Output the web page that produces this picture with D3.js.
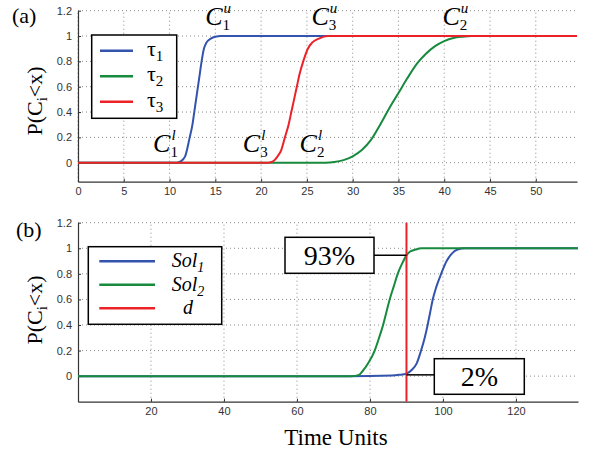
<!DOCTYPE html>
<html>
<head>
<meta charset="utf-8">
<script src="https://cdn.jsdelivr.net/npm/d3@7"></script>
<style>
body { margin: 0; background: #fff; }
</style>
</head>
<body>
<script>
// panel (a): cumulative probability of each task finishing
var tau1Time = [0, 10.8, 11.2, 11.7, 12.2, 12.5, 12.7, 12.9, 13.1, 13.3, 13.5, 13.75, 14.05, 14.5, 15, 15.6, 54.5];
var tau1Prob = [0, 0, 0.01, 0.05, 0.2, 0.3, 0.4, 0.5, 0.6, 0.7, 0.8, 0.9, 0.95, 0.98, 0.995, 1, 1];
var tau2Time = [0, 27, 28, 29, 30, 31, 32, 33, 34, 35, 36, 37, 38, 39, 40, 41, 42, 43, 54.5];
var tau2Prob = [0, 0, 0.005, 0.02, 0.05, 0.1, 0.18, 0.3, 0.43, 0.55, 0.67, 0.78, 0.86, 0.92, 0.96, 0.985, 0.995, 1, 1];
var tau3Time = [0, 20.8, 21.3, 21.8, 22.2, 22.6, 23, 23.3, 23.6, 23.9, 24.2, 24.6, 25.1, 25.6, 26.3, 27.3, 54.5];
var tau3Prob = [0, 0, 0.01, 0.05, 0.1, 0.2, 0.3, 0.4, 0.5, 0.6, 0.7, 0.8, 0.9, 0.95, 0.98, 1, 1];

// panel (b): the two solutions and the deadline
var sol1Time = [0, 74, 86, 88, 90, 91.5, 92.8, 94, 95, 95.8, 96.5, 97.2, 98.2, 99.5, 101, 102.5, 104, 106, 137];
var sol1Prob = [0, 0, 0.005, 0.01, 0.02, 0.05, 0.1, 0.2, 0.3, 0.4, 0.5, 0.6, 0.7, 0.8, 0.9, 0.96, 0.99, 1, 1];
var sol2Time = [0, 75, 77, 78, 79.5, 81.3, 82.5, 83.6, 84.5, 85.4, 86.5, 87.6, 88.8, 90, 91, 92.5, 94, 137];
var sol2Prob = [0, 0, 0.01, 0.04, 0.1, 0.2, 0.3, 0.4, 0.5, 0.6, 0.7, 0.8, 0.88, 0.945, 0.975, 0.99, 1, 1];
var deadline = 90;

// tick labels
var topTimeTicks = [0, 5, 10, 15, 20, 25, 30, 35, 40, 45, 50];
var bottomTimeTicks = [20, 40, 60, 80, 100, 120];
var probTicks = [0, 0.2, 0.4, 0.6, 0.8, 1, 1.2];

// bound labels in panel (a): [index, sup, time, prob]
var boundLabels = [
	["1", "u", 13.9, 1.087], ["3", "u", 25.5, 1.087], ["2", "u", 39.8, 1.087],
	["1", "l", 8.2, 0.084], ["3", "l", 18.0, 0.084], ["2", "l", 24.2, 0.084]];

var blue = "#3353ad", green = "#178a3e", red = "#ec2229";
var serif = "'Liberation Serif', 'Times New Roman', serif";
var sans = "'Liberation Sans', Arial, sans-serif";

var svg = d3.select("body").append("svg")
	.attr("width", 590)
	.attr("height", 455)
	.style("background", "#fff");

function zip(xs, ys) {
	return xs.map(function (x, i) { return [x, ys[i]]; });
}

function drawPanel(g, x, y, xTicks) {
	// dotted grid
	g.selectAll(".vgrid").data(xTicks).enter().append("line")
		.attr("x1", function (d) { return x(d); }).attr("x2", function (d) { return x(d); })
		.attr("y1", y.range()[0]).attr("y2", y.range()[1])
		.attr("stroke", "#8a8a8a").attr("stroke-width", 1).attr("stroke-dasharray", "1,3");
	g.selectAll(".hgrid").data(probTicks).enter().append("line")
		.attr("x1", x.range()[0]).attr("x2", x.range()[1])
		.attr("y1", function (d) { return y(d); }).attr("y2", function (d) { return y(d); })
		.attr("stroke", "#8a8a8a").attr("stroke-width", 1).attr("stroke-dasharray", "1,3");

	var xa = g.append("g").attr("transform", "translate(0," + y.range()[0] + ")")
		.call(d3.axisBottom(x).tickValues(xTicks).tickSize(-3).tickSizeOuter(0).tickPadding(6));
	var ya = g.append("g").attr("transform", "translate(" + x.range()[0] + ",0)")
		.call(d3.axisLeft(y).tickValues(probTicks).tickSize(-3).tickSizeOuter(0).tickPadding(6).tickFormat(d3.format("")));
	[xa, ya].forEach(function (a) {
		a.select(".domain").attr("stroke", "#333").attr("stroke-width", 1.2);
		a.selectAll(".tick line").attr("stroke", "#333");
		a.selectAll("text").attr("fill", "#333").style("font-family", sans).style("font-size", "11px");
	});
}

function drawCurve(g, x, y, pts, color) {
	g.append("path")
		.datum(pts)
		.attr("fill", "none")
		.attr("stroke", color)
		.attr("stroke-width", 2)
		.attr("d", d3.line().x(function (d) { return x(d[0]); }).y(function (d) { return y(d[1]); }).curve(d3.curveMonotoneX));
}

function yLabel(cx, cy) {
	var t = svg.append("text")
		.attr("transform", "translate(" + cx + "," + cy + ") rotate(-90)")
		.attr("text-anchor", "middle")
		.style("font-family", serif).style("font-size", "22px");
	t.append("tspan").text("P(C");
	t.append("tspan").attr("dy", 5).style("font-size", "15px").text("i");
	t.append("tspan").attr("dy", -5).text("<x)");
}

// ---------- panel (a) ----------
var xA = d3.scaleLinear().domain([0, 54.5]).range([78, 577]);
var yA = d3.scaleLinear().domain([-0.15, 1.2]).range([181.7, 10.7]);
var gA = svg.append("g");
drawPanel(gA, xA, yA, topTimeTicks);
drawCurve(gA, xA, yA, zip(tau1Time, tau1Prob), blue);
drawCurve(gA, xA, yA, zip(tau2Time, tau2Prob), green);
drawCurve(gA, xA, yA, zip(tau3Time, tau3Prob), red);

boundLabels.forEach(function (b) {
	var px = xA(b[2]), py = yA(b[3]);
	var c = gA.append("text").attr("x", px).attr("y", py)
		.style("font-family", serif).style("font-style", "italic").style("font-size", "26px").text("C");
	var w = c.node().getComputedTextLength();
	gA.append("text").attr("x", px + w + 1).attr("y", py - 12)
		.style("font-family", serif).style("font-style", "italic").style("font-size", "15px").text(b[1]);
	gA.append("text").attr("x", px + w).attr("y", py + 5)
		.style("font-family", serif).style("font-size", "15px").text(b[0]);
});

// legend (a)
var legA = gA.append("g");
legA.append("rect").attr("x", 91.7).attr("y", 35).attr("width", 85).attr("height", 83.3)
	.attr("fill", "#fff").attr("stroke", "#000").attr("stroke-width", 1.5);
[["1", blue], ["2", green], ["3", red]].forEach(function (d, i) {
	var ry = 50.7 + i * 25.5;
	legA.append("line").attr("x1", 100).attr("x2", 133).attr("y1", ry).attr("y2", ry)
		.attr("stroke", d[1]).attr("stroke-width", 2.5);
	var t = legA.append("text").attr("x", 147).attr("y", ry + 5)
		.style("font-family", serif).style("font-size", "22px");
	t.append("tspan").text("τ");
	t.append("tspan").attr("dy", 5).style("font-size", "15px").text(d[0]);
});

svg.append("text").attr("x", 12).attr("y", 23)
	.style("font-family", serif).style("font-size", "22px").text("(a)");
yLabel(42, 101);

// ---------- panel (b) ----------
var xB = d3.scaleLinear().domain([0, 137]).range([78, 578]);
var yB = d3.scaleLinear().domain([-0.2, 1.2]).range([401.7, 222.7]);
var gB = svg.append("g");
drawPanel(gB, xB, yB, bottomTimeTicks);
drawCurve(gB, xB, yB, zip(sol1Time, sol1Prob), blue);
drawCurve(gB, xB, yB, zip(sol2Time, sol2Prob), green);
gB.append("line")
	.attr("x1", xB(deadline)).attr("x2", xB(deadline))
	.attr("y1", yB.range()[0]).attr("y2", yB.range()[1])
	.attr("stroke", red).attr("stroke-width", 2);

// callouts: percentage of each solution finished by the deadline
var callouts = [
	{ label: "93%", prob: 0.945, box: [285, 237.3, 89, 36], side: "left" },
	{ label: "2%", prob: 0.01, box: [434.3, 358.7, 90, 35.6], side: "right" }];
callouts.forEach(function (c) {
	var py = yB(c.prob);
	var edge = c.side === "left" ? c.box[0] + c.box[2] : c.box[0];
	gB.append("line").attr("x1", xB(deadline)).attr("x2", edge).attr("y1", py).attr("y2", py)
		.attr("stroke", "#000").attr("stroke-width", 1.5);
	gB.append("rect").attr("x", c.box[0]).attr("y", c.box[1]).attr("width", c.box[2]).attr("height", c.box[3])
		.attr("fill", "#fff").attr("stroke", "#000").attr("stroke-width", 1.5);
	gB.append("text").attr("x", c.box[0] + c.box[2] / 2).attr("y", c.box[1] + c.box[3] - 8)
		.attr("text-anchor", "middle")
		.style("font-family", serif).style("font-size", "28px").text(c.label);
});

// legend (b)
var legB = gB.append("g");
legB.append("rect").attr("x", 88.3).attr("y", 246.7).attr("width", 133.4).attr("height", 77.6)
	.attr("fill", "#fff").attr("stroke", "#000").attr("stroke-width", 1.5);
[["Sol", "1", blue], ["Sol", "2", green], ["d", "", red]].forEach(function (d, i) {
	var ry = 261.3 + i * 23.5;
	legB.append("line").attr("x1", 99.3).attr("x2", 155).attr("y1", ry).attr("y2", ry)
		.attr("stroke", d[2]).attr("stroke-width", 2.5);
	var t = legB.append("text").attr("x", 188).attr("y", ry + 6).attr("text-anchor", "middle")
		.style("font-family", serif).style("font-style", "italic").style("font-size", "20px");
	t.append("tspan").text(d[0]);
	if (d[1]) t.append("tspan").attr("dy", 5).style("font-size", "14px").text(d[1]);
});

svg.append("text").attr("x", 16).attr("y", 237)
	.style("font-family", serif).style("font-size", "22px").text("(b)");
yLabel(42, 310);

svg.append("text").attr("x", 336).attr("y", 445).attr("text-anchor", "middle")
	.style("font-family", serif).style("font-size", "23px").text("Time Units");
</script>
</body>
</html>
